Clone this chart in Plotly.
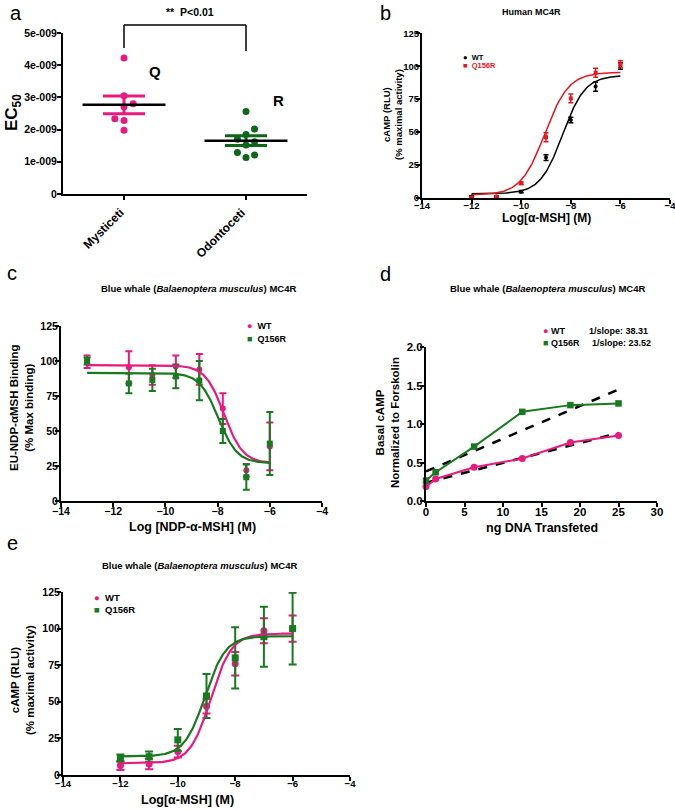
import numpy as np
import plotly.graph_objects as go

W, H = 675, 810
PINK = "#E8197F"
GREEN = "#177A1E"
DKGREEN = "#0E6618"
RED = "#E8161C"
BLACK = "#000000"
FONT = "Liberation Sans, Arial, sans-serif"

# ---------------- data ----------------
# panel a
a_categories = ["Mysticeti", "Odontoceti"]
a_tick_vals = [0, 1e-9, 2e-9, 3e-9, 4e-9, 5e-9]
a_tick_text = ["0", "1e-009", "2e-009", "3e-009", "4e-009", "5e-009"]
a_myst_ec50 = [4.22e-9, 3.05e-9, 2.80e-9, 2.71e-9, 2.34e-9, 2.28e-9, 1.98e-9]
a_myst_jitter = [0, 0, 0.075, 0, -0.075, 0, 0]
a_odon_ec50 = [2.56e-9, 2.02e-9, 1.85e-9, 1.70e-9, 1.62e-9, 1.52e-9, 1.29e-9, 1.21e-9, 1.13e-9]
a_odon_jitter = [0, 0.07, 0, -0.07, 0.07, 0, -0.07, 0.07, 0]

# panel b (Human MC4R)
b_dose = [-12, -11, -10, -9, -8, -7, -6]
b_wt_mean = [1.0, 1.0, 4.6, 30.5, 59.0, 84.5, 100.2]
b_wt_sem = [0.5, 0.5, 0.8, 2.2, 2.1, 3.5, 2.5]
b_q_mean = [0.0, 0.6, 11.0, 46.0, 75.5, 95.0, 101.5]
b_q_sem = [0.5, 0.5, 1.0, 3.4, 3.4, 3.5, 2.7]
b_wt_fit = dict(bottom=3.0, top=93.0, logec50=-8.33, hill=0.96)
b_q_fit = dict(bottom=2.0, top=95.3, logec50=-9.05, hill=0.90)

# panel c (binding)
c_dose = [-13.0, -11.4, -10.5, -9.6, -8.7, -7.8, -6.9, -6.0]
c_wt_mean = [99.5, 95.5, 90.0, 96.0, 94.0, 66.0, 22.0, 39.0]
c_wt_sem = [4.5, 11.5, 7.0, 8.0, 11.0, 11.0, 4.5, 17.0]
c_q_mean = [100.0, 84.0, 86.5, 89.0, 86.0, 50.0, 17.0, 41.0]
c_q_sem = [2.5, 7.0, 8.0, 8.5, 14.0, 8.5, 9.0, 22.5]
c_wt_fit = dict(bottom=27.0, top=97.0, logic50=-7.75, hill=1.2)
c_q_fit = dict(bottom=27.0, top=91.5, logic50=-7.97, hill=1.2)

# panel d (basal activity)
d_dna = [0, 1.25, 6.25, 12.5, 18.75, 25]
d_wt = [0.187, 0.286, 0.438, 0.551, 0.759, 0.850]
d_q = [0.265, 0.373, 0.707, 1.158, 1.245, 1.267]
d_wt_inv_slope = "38.31"
d_q_inv_slope = "23.52"

# panel e (blue whale cAMP)
e_dose = [-12, -11, -10, -9, -8, -7, -6]
e_wt_mean = [6.5, 7.5, 16.0, 47.0, 76.0, 98.5, 100.0]
e_wt_sem = [3.0, 3.5, 4.0, 5.0, 8.0, 8.5, 9.0]
e_q_mean = [11.5, 12.5, 24.0, 54.0, 80.0, 94.5, 100.0]
e_q_sem = [2.5, 3.5, 7.5, 15.0, 21.0, 20.5, 24.5]
e_wt_fit = dict(bottom=8.0, top=96.6, logec50=-8.85, hill=1.2)
e_q_fit = dict(bottom=12.7, top=94.8, logec50=-9.05, hill=1.2)


def agonist(x, p):
    return p["bottom"] + (p["top"] - p["bottom"]) / (1 + 10 ** ((p["logec50"] - x) * p["hill"]))


def inhibitor(x, p):
    return p["bottom"] + (p["top"] - p["bottom"]) / (1 + 10 ** ((x - p["logic50"]) * p["hill"]))


def fx(px):
    return px / W


def fy(py):
    return 1 - py / H


fig = go.Figure()

# ---------------- panel a ----------------
groups = [
    (0, a_myst_ec50, a_myst_jitter, PINK),
    (1, a_odon_ec50, a_odon_jitter, DKGREEN),
]
for idx, vals, jit, col in groups:
    arr = np.array(vals)
    mean = arr.mean()
    sem = arr.std(ddof=1) / np.sqrt(len(arr))
    fig.add_trace(go.Scatter(x=[idx + j for j in jit], y=vals, mode="markers",
                             marker=dict(color=col, size=7), xaxis="x", yaxis="y",
                             showlegend=False, cliponaxis=False))
    fig.add_trace(go.Scatter(x=[idx], y=[mean], mode="markers",
                             marker=dict(color=col, size=1, opacity=0),
                             error_y=dict(type="data", array=[sem], color=col, thickness=3, width=21),
                             xaxis="x", yaxis="y", showlegend=False))
    fig.add_trace(go.Scatter(x=[idx - 0.34, idx + 0.34], y=[mean, mean], mode="lines",
                             line=dict(color=BLACK, width=2.5), xaxis="x", yaxis="y",
                             showlegend=False))

# ---------------- panel b ----------------
xb = np.linspace(-12, -6, 200)
fig.add_trace(go.Scatter(x=xb, y=agonist(xb, b_wt_fit), mode="lines",
                         line=dict(color=BLACK, width=1.5), xaxis="x2", yaxis="y2", showlegend=False))
fig.add_trace(go.Scatter(x=xb, y=agonist(xb, b_q_fit), mode="lines",
                         line=dict(color=RED, width=1.5), xaxis="x2", yaxis="y2", showlegend=False))
fig.add_trace(go.Scatter(x=b_dose, y=b_wt_mean, mode="markers",
                         marker=dict(color=BLACK, size=4, symbol="circle"),
                         error_y=dict(type="data", array=b_wt_sem, color=BLACK, thickness=1.5, width=2.5),
                         xaxis="x2", yaxis="y2", showlegend=False, cliponaxis=False))
fig.add_trace(go.Scatter(x=b_dose, y=b_q_mean, mode="markers",
                         marker=dict(color=RED, size=4, symbol="square"),
                         error_y=dict(type="data", array=b_q_sem, color=RED, thickness=1.5, width=2.5),
                         xaxis="x2", yaxis="y2", showlegend=False, cliponaxis=False))

# ---------------- panel c ----------------
xc = np.linspace(-13, -6, 200)
fig.add_trace(go.Scatter(x=c_dose, y=c_wt_mean, mode="markers",
                         marker=dict(color=PINK, size=6, symbol="circle"),
                         error_y=dict(type="data", array=c_wt_sem, color=PINK, thickness=2, width=3.5),
                         xaxis="x3", yaxis="y3", showlegend=False, cliponaxis=False))
fig.add_trace(go.Scatter(x=c_dose, y=c_q_mean, mode="markers",
                         marker=dict(color=GREEN, size=6, symbol="square"),
                         error_y=dict(type="data", array=c_q_sem, color=GREEN, thickness=2, width=3.5),
                         xaxis="x3", yaxis="y3", showlegend=False, cliponaxis=False))
fig.add_trace(go.Scatter(x=xc, y=inhibitor(xc, c_wt_fit), mode="lines",
                         line=dict(color=PINK, width=2.2), xaxis="x3", yaxis="y3", showlegend=False))
fig.add_trace(go.Scatter(x=xc, y=inhibitor(xc, c_q_fit), mode="lines",
                         line=dict(color=GREEN, width=2.2), xaxis="x3", yaxis="y3", showlegend=False))

# ---------------- panel d ----------------
for yvals in (d_wt, d_q):
    slope, icpt = np.polyfit(d_dna, yvals, 1)
    xl = np.array([min(d_dna), max(d_dna)])
    fig.add_trace(go.Scatter(x=xl, y=slope * xl + icpt, mode="lines",
                             line=dict(color=BLACK, width=2.5, dash="dash"),
                             xaxis="x4", yaxis="y4", showlegend=False))
fig.add_trace(go.Scatter(x=d_dna, y=d_wt, mode="lines+markers",
                         line=dict(color=PINK, width=2), marker=dict(color=PINK, size=7, symbol="circle"),
                         xaxis="x4", yaxis="y4", showlegend=False, cliponaxis=False))
fig.add_trace(go.Scatter(x=d_dna, y=d_q, mode="lines+markers",
                         line=dict(color=GREEN, width=2), marker=dict(color=GREEN, size=6.5, symbol="square"),
                         xaxis="x4", yaxis="y4", showlegend=False, cliponaxis=False))

# ---------------- panel e ----------------
xe = np.linspace(-12, -6, 200)
fig.add_trace(go.Scatter(x=e_dose, y=e_wt_mean, mode="markers",
                         marker=dict(color=PINK, size=7, symbol="circle"),
                         error_y=dict(type="data", array=e_wt_sem, color=PINK, thickness=2, width=4),
                         xaxis="x5", yaxis="y5", showlegend=False, cliponaxis=False))
fig.add_trace(go.Scatter(x=e_dose, y=e_q_mean, mode="markers",
                         marker=dict(color=GREEN, size=7, symbol="square"),
                         error_y=dict(type="data", array=e_q_sem, color=GREEN, thickness=2, width=4),
                         xaxis="x5", yaxis="y5", showlegend=False, cliponaxis=False))
fig.add_trace(go.Scatter(x=xe, y=agonist(xe, e_wt_fit), mode="lines",
                         line=dict(color=PINK, width=2.2), xaxis="x5", yaxis="y5", showlegend=False))
fig.add_trace(go.Scatter(x=xe, y=agonist(xe, e_q_fit), mode="lines",
                         line=dict(color=GREEN, width=2.2), xaxis="x5", yaxis="y5", showlegend=False))


# ---------------- axes ----------------
def axis(domain, anchor, rng, tickvals, ticktext=None, size=10.5, **kw):
    d = dict(domain=domain, anchor=anchor, range=rng, tickvals=tickvals, automargin=False,
             showline=True, linewidth=2, linecolor=BLACK, ticks="outside", ticklen=4,
             tickwidth=2, tickcolor=BLACK, showgrid=False, zeroline=False, ticklabelstandoff=-5,
             ticklabeloverflow="allow",
             tickfont=dict(family=FONT, size=size, color=BLACK, weight="bold"))
    if ticktext is not None:
        d["ticktext"] = ticktext
    d.update(kw)
    return d


y125 = [0, 25, 50, 75, 100, 125]
log_ticks = [-14, -12, -10, -8, -6, -4]

fig.update_layout(
    xaxis=axis([fx(63), fx(307)], "y", [-0.5, 1.5], [0, 1], showticklabels=False),
    yaxis=axis([fy(194), fy(33)], "x", [0, 5e-9], a_tick_vals, a_tick_text, ticklabelstandoff=-2),
    xaxis2=axis([fx(422), fx(670)], "y2", [-14, -4], log_ticks, size=9.5, ticklabelstandoff=-6),
    yaxis2=axis([fy(197.7), fy(33.3)], "x2", [0, 125], y125, size=9.5),
    xaxis3=axis([fx(61), fx(322)], "y3", [-14, -4], log_ticks),
    yaxis3=axis([fy(501), fy(326)], "x3", [0, 125], y125),
    xaxis4=axis([fx(426), fx(657)], "y4", [0, 30], [0, 5, 10, 15, 20, 25, 30], size=11.5),
    yaxis4=axis([fy(501), fy(347)], "x4", [0, 2], [0, 0.5, 1.0, 1.5, 2.0],
                ["0.0", "0.5", "1.0", "1.5", "2.0"], size=11.5),
    xaxis5=axis([fx(63), fx(350)], "y5", [-14, -4], log_ticks, size=9.5),
    yaxis5=axis([fy(775), fy(592)], "x5", [0, 125], y125),
)

# significance bracket (panel a)
for x0, x1, y0, y1 in [(0, 1, fy(25), fy(25)), (0, 0, fy(25), fy(48)), (1, 1, fy(25), fy(51))]:
    fig.add_shape(type="line", xref="x", yref="paper", x0=x0, x1=x1, y0=y0, y1=y1,
                  line=dict(color=BLACK, width=1.5))

ann = []


def text(x, y, s, size, xanchor="center", yanchor="middle", angle=0, weight="bold", color=BLACK,
         xref="paper", yref="paper", xshift=0):
    ann.append(dict(x=x, y=y, xref=xref, yref=yref, text=s, showarrow=False, xanchor=xanchor,
                    yanchor=yanchor, textangle=angle, xshift=xshift,
                    font=dict(family=FONT, size=size, color=color, weight=weight)))


# panel letters
text(fx(8), fy(13), "a", 20, xanchor="left", weight="normal")
text(fx(378), fy(13), "b", 20, xanchor="left", weight="normal")
text(fx(5), fy(273), "c", 20, xanchor="left", weight="normal")
text(fx(378), fy(274), "d", 20, xanchor="left", weight="normal")
text(fx(5), fy(543), "e", 20, xanchor="left", weight="normal")

# panel a texts
for i, cat in enumerate(a_categories):
    text(i, fy(203), cat, 12, xanchor="right", yanchor="top", angle=-45, xref="x", xshift=5)
text(fx(190), fy(12), "**  P<0.01", 10.5)
text(0.25, 3.80e-9, "Q", 15, xref="x", yref="y")
text(1.27, 2.89e-9, "R", 15, xref="x", yref="y")
text(fx(13), fy(113), "EC<sub>50</sub>", 17, angle=-90)

# panel b texts
text(fx(531), fy(12), "Human MC4R", 9)
text(fx(546), fy(218), "Log[\u03b1-MSH] (M)", 12)
text(fx(393), fy(115), "cAMP (RLU)<br>(% maximal activity)", 9.5, angle=-90)
text(fx(461), fy(57), "\u25cf  WT", 7.5, xanchor="left")
text(fx(461), fy(65), "<span style='color:#E8161C'>\u25a0  Q156R</span>", 7.5, xanchor="left")

# panel c texts
text(fx(198), fy(289), "Blue whale (<i>Balaenoptera musculus</i>) MC4R", 9.5)
text(fx(192), fy(527), "Log [NDP-\u03b1-MSH] (M)", 12.5)
text(fx(22), fy(408), "EU-NDP-\u03b1MSH Binding<br>(% Max binding)", 11.5, angle=-90)
text(fx(245), fy(326), "<span style='color:#E8197F'>\u25cf</span>  WT", 9, xanchor="left")
text(fx(245), fy(339), "<span style='color:#177A1E'>\u25a0</span>  Q156R", 9, xanchor="left")

# panel d texts
text(fx(547), fy(289), "Blue whale (<i>Balaenoptera musculus</i>) MC4R", 9.5)
text(fx(542), fy(528), "ng DNA Transfeted", 12.5)
text(fx(387), fy(423), "Basal cAMP<br>Normalized to Forskolin", 11.5, angle=-90)
text(fx(541), fy(331.5), "<span style='color:#E8197F'>\u25cf</span> WT", 9, xanchor="left")
text(fx(541), fy(342.5), "<span style='color:#177A1E'>\u25a0</span> Q156R", 9, xanchor="left")
text(fx(587), fy(331.5), "1/slope: " + d_wt_inv_slope, 9, xanchor="left")
text(fx(590), fy(342.5), "1/slope: " + d_q_inv_slope, 9, xanchor="left")

# panel e texts
text(fx(199), fy(565), "Blue whale (<i>Balaenoptera musculus</i>) MC4R", 9.5)
text(fx(187), fy(800), "Log[\u03b1-MSH] (M)", 12.5)
text(fx(22), fy(680), "cAMP (RLU)<br>(% maximal activity)", 11.5, angle=-90)
text(fx(92), fy(597), "<span style='color:#E8197F'>\u25cf</span>  WT", 9.5, xanchor="left")
text(fx(92), fy(609), "<span style='color:#177A1E'>\u25a0</span>  Q156R", 9.5, xanchor="left")

fig.update_layout(
    annotations=ann,
    width=W, height=H,
    margin=dict(l=0, r=0, t=0, b=0),
    paper_bgcolor="white", plot_bgcolor="white",
    showlegend=False, hovermode=False,
    font=dict(family=FONT, color=BLACK),
)

fig.write_html("out.html", config={"displayModeBar": False, "staticPlot": True},
               post_script="document.body.style.margin='0px';document.body.style.overflow='hidden';")
